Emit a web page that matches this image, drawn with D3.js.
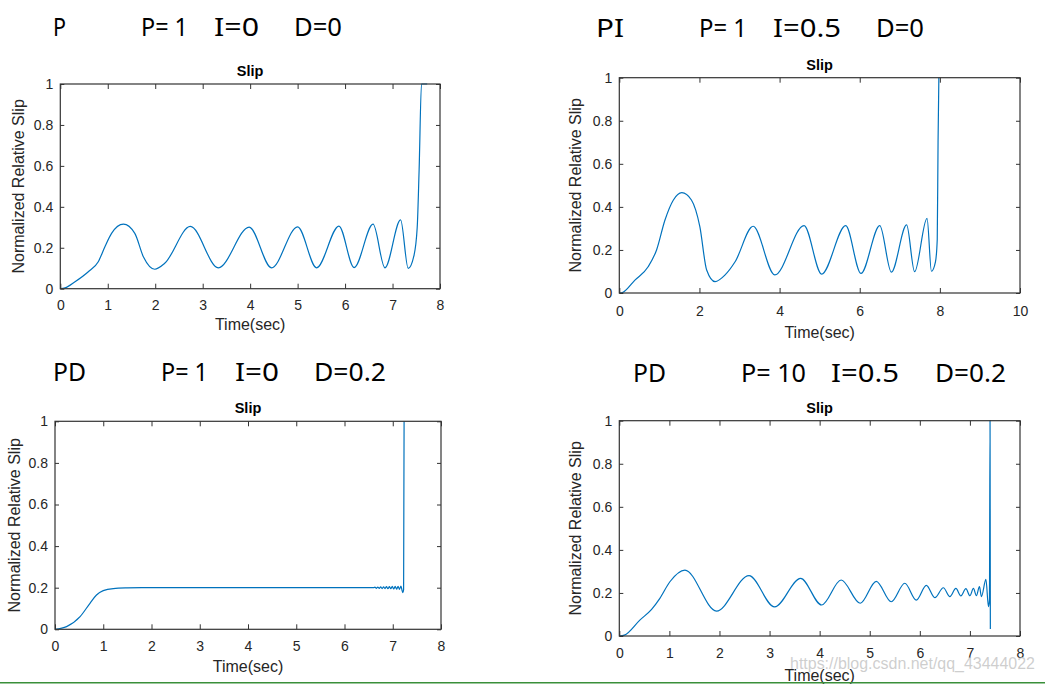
<!DOCTYPE html>
<html><head><meta charset="utf-8">
<script src="https://cdn.jsdelivr.net/npm/d3@7"></script>
<style>body{margin:0;background:#fff;} svg{display:block;}</style>
</head><body>
<svg id="chart" width="1045" height="684"></svg>
<script>
// ---------- data ----------
const p1Time = [0, 0.1, 0.31, 0.59, 0.80, 0.94, 1.08, 1.33, 1.57, 1.75, 1.99, 2.2, 2.74, 3.33, 3.98, 4.45, 5.0, 5.40, 5.87, 6.19, 6.59, 6.84, 7.17, 7.33, 7.45, 7.52, 7.56, 7.61, 7.73];
const p1Slip = [0, 0.004, 0.034, 0.083, 0.132, 0.205, 0.27, 0.315, 0.27, 0.156, 0.095, 0.124, 0.304, 0.102, 0.301, 0.102, 0.302, 0.102, 0.306, 0.103, 0.315, 0.102, 0.336, 0.099, 0.16, 0.30, 0.58, 1.0, 1.0];

const p2Time = [0, 0.06, 0.39, 0.72, 0.93, 1.14, 1.35, 1.56, 1.8, 2.01, 2.18, 2.39, 2.64, 2.89, 3.34, 3.88, 4.61, 5.05, 5.65, 6.03, 6.50, 6.79, 7.17, 7.37, 7.68, 7.79, 7.89, 7.935, 7.955, 7.975];
const p2Slip = [0, 0.001, 0.06, 0.122, 0.2, 0.339, 0.432, 0.466, 0.432, 0.308, 0.107, 0.053, 0.084, 0.145, 0.31, 0.084, 0.313, 0.088, 0.313, 0.091, 0.313, 0.097, 0.316, 0.099, 0.347, 0.101, 0.145, 0.25, 0.7, 1.0];

const p3Time = [0, 0.24, 0.52, 0.725, 0.86, 1.0, 1.21, 1.49, 1.8, 6.60, 6.63, 6.66, 6.69, 6.72, 6.75, 6.78, 6.81, 6.84, 6.87, 6.90, 6.93, 6.96, 6.99, 7.02, 7.05, 7.08, 7.11, 7.14, 7.17, 7.19, 7.21, 7.225, 7.235];
const p3Slip = [0, 0.013, 0.061, 0.125, 0.165, 0.186, 0.196, 0.199, 0.2, 0.200, 0.203, 0.197, 0.203, 0.197, 0.204, 0.196, 0.204, 0.196, 0.205, 0.195, 0.205, 0.195, 0.206, 0.194, 0.206, 0.193, 0.207, 0.192, 0.208, 0.19, 0.176, 0.19, 1.0];

const p4Time = [0, 0.1, 0.41, 0.645, 0.81, 1.01, 1.31, 1.94, 2.59, 3.10, 3.62, 4.04, 4.43, 4.81, 5.13, 5.43, 5.70, 5.93, 6.13, 6.30, 6.47, 6.60, 6.72, 6.82, 6.92, 7.00, 7.07, 7.13, 7.19, 7.23, 7.32, 7.37, 7.39, 7.402, 7.408];
const p4Slip = [0, 0.004, 0.074, 0.124, 0.175, 0.252, 0.306, 0.116, 0.28, 0.135, 0.268, 0.144, 0.26, 0.152, 0.254, 0.159, 0.245, 0.167, 0.235, 0.178, 0.224, 0.183, 0.221, 0.186, 0.220, 0.187, 0.221, 0.187, 0.229, 0.183, 0.263, 0.136, 0.17, 1.0, 0.033];

const xTicks8 = [0, 1, 2, 3, 4, 5, 6, 7, 8];
const xTicks10 = [0, 2, 4, 6, 8, 10];
const yTicks = [0, 0.2, 0.4, 0.6, 0.8, 1];

const header1 = ["P", "P= 1", "I=0", "D=0"];
const header2 = ["PI", "P= 1", "I=0.5", "D=0"];
const header3 = ["PD", "P= 1", "I=0", "D=0.2"];
const header4 = ["PD", "P= 10", "I=0.5", "D=0.2"];

const plotTitle = "Slip";
const xLabel = "Time(sec)";
const yLabel = "Normalized Relative Slip";
const watermark = "https://blog.csdn.net/qq_43444022";

// ---------- layout ----------
const panels = [
  {time: p1Time, slip: p1Slip, xMax: 8, xTicks: xTicks8, left: 60.3, right: 440, top: 84, bottom: 288.7,
   header: header1, hx: [[53, 66], [141, 188], [214, 259], [294, 342]], hy: 36, tickPad: 11, xlDy: 41, ylDx: -36},
  {time: p2Time, slip: p2Slip, xMax: 10, xTicks: xTicks10, left: 619.3, right: 1020, top: 77.7, bottom: 293,
   header: header2, hx: [[596, 624], [699, 747], [773, 841], [876, 924]], hy: 37, tickPad: 13, xlDy: 45, ylDx: -38},
  {time: p3Time, slip: p3Slip, xMax: 8, xTicks: xTicks8, left: 55, right: 441, top: 421.3, bottom: 629.3,
   header: header3, hx: [[53, 86], [161, 208], [235, 279], [314, 386]], hy: 381, tickPad: 11.5, xlDy: 43, ylDx: -35},
  {time: p4Time, slip: p4Slip, xMax: 8, xTicks: xTicks8, left: 619.3, right: 1020, top: 420.7, bottom: 636,
   header: header4, hx: [[633, 666], [741, 806], [831, 899], [935, 1006]], hy: 382, tickPad: 12, xlDy: 45, ylDx: -38}
];

const svg = d3.select("#chart");
const axisColor = "#333333";
const textColor = "#262626";
const lineColor = "#0072BD";

panels.forEach((p, i) => {
  const x = d3.scaleLinear().domain([0, p.xMax]).range([p.left, p.right]);
  const y = d3.scaleLinear().domain([0, 1]).range([p.bottom, p.top]);
  const g = svg.append("g");

  // header tokens
  p.header.forEach((txt, k) => {
    g.append("text")
      .attr("x", p.hx[k][0]).attr("y", p.hy)
      .attr("textLength", p.hx[k][1] - p.hx[k][0])
      .attr("lengthAdjust", "spacingAndGlyphs")
      .style("font-family", "'Comic Sans MS', 'Noto Sans', sans-serif")
      .style("font-size", "26px")
      .style("fill", "#000")
      .text(txt);
  });

  // clip
  const cid = "clip" + i;
  svg.append("clipPath").attr("id", cid).append("rect")
    .attr("x", p.left).attr("y", p.top - 1)
    .attr("width", p.right - p.left).attr("height", p.bottom - p.top + 1);

  // line
  const pts = p.time.map((t, k) => [t, p.slip[k]]);
  g.append("path")
    .datum(pts)
    .attr("clip-path", `url(#${cid})`)
    .attr("fill", "none")
    .attr("stroke", lineColor)
    .attr("stroke-width", 1.2)
    .attr("d", d3.line().x(d => x(d[0])).y(d => y(d[1])).curve(d3.curveMonotoneX));

  // axes
  const fmt = d3.format("~g");
  const xb = g.append("g").attr("transform", `translate(0,${p.bottom})`)
    .call(d3.axisBottom(x).tickValues(p.xTicks).tickFormat(fmt).tickSizeInner(-5).tickSizeOuter(0).tickPadding(p.tickPad));
  const xt = g.append("g").attr("transform", `translate(0,${p.top})`)
    .call(d3.axisTop(x).tickValues(p.xTicks).tickFormat("").tickSizeInner(-5).tickSizeOuter(0));
  const yl = g.append("g").attr("transform", `translate(${p.left},0)`)
    .call(d3.axisLeft(y).tickValues(yTicks).tickFormat(fmt).tickSizeInner(-4).tickSizeOuter(0).tickPadding(7));
  const yr = g.append("g").attr("transform", `translate(${p.right},0)`)
    .call(d3.axisRight(y).tickValues(yTicks).tickFormat("").tickSizeInner(-4).tickSizeOuter(0));
  [xb, xt, yl, yr].forEach(a => {
    a.select(".domain").remove();
    a.selectAll(".tick line").attr("stroke", axisColor).attr("stroke-width", 1);
    a.selectAll(".tick text").attr("fill", textColor)
      .style("font-family", "Arial, 'Liberation Sans', sans-serif").style("font-size", "14px");
  });
  g.append("rect")
    .attr("x", p.left).attr("y", p.top)
    .attr("width", p.right - p.left).attr("height", p.bottom - p.top)
    .attr("fill", "none").attr("stroke", axisColor).attr("stroke-width", 1.2);

  // title
  g.append("text")
    .attr("x", (p.left + p.right) / 2).attr("y", p.top - 8)
    .attr("text-anchor", "middle")
    .style("font-family", "Arial, 'Liberation Sans', sans-serif")
    .style("font-size", "14.5px").style("font-weight", "bold").style("fill", "#000")
    .text(plotTitle);

  // x label
  g.append("text")
    .attr("x", (p.left + p.right) / 2).attr("y", p.bottom + p.xlDy)
    .attr("text-anchor", "middle")
    .style("font-family", "Arial, 'Liberation Sans', sans-serif")
    .style("font-size", "16px").style("fill", textColor)
    .text(xLabel);

  // y label
  g.append("text")
    .attr("transform", `translate(${p.left + p.ylDx},${(p.top + p.bottom) / 2}) rotate(-90)`)
    .attr("text-anchor", "middle")
    .style("font-family", "Arial, 'Liberation Sans', sans-serif")
    .style("font-size", "16px").style("fill", textColor)
    .text(yLabel);
});

// watermark
svg.append("text")
  .attr("x", 790).attr("y", 669)
  .attr("textLength", 245).attr("lengthAdjust", "spacingAndGlyphs")
  .style("font-family", "Arial, 'Liberation Sans', sans-serif")
  .style("font-size", "16px")
  .style("fill", "rgba(185,185,185,0.7)")
  .text(watermark);

// bottom green rule
svg.append("rect").attr("x", 0).attr("y", 682).attr("width", 1045).attr("height", 1.5).attr("fill", "#3a8f3a");
</script>
</body></html>
